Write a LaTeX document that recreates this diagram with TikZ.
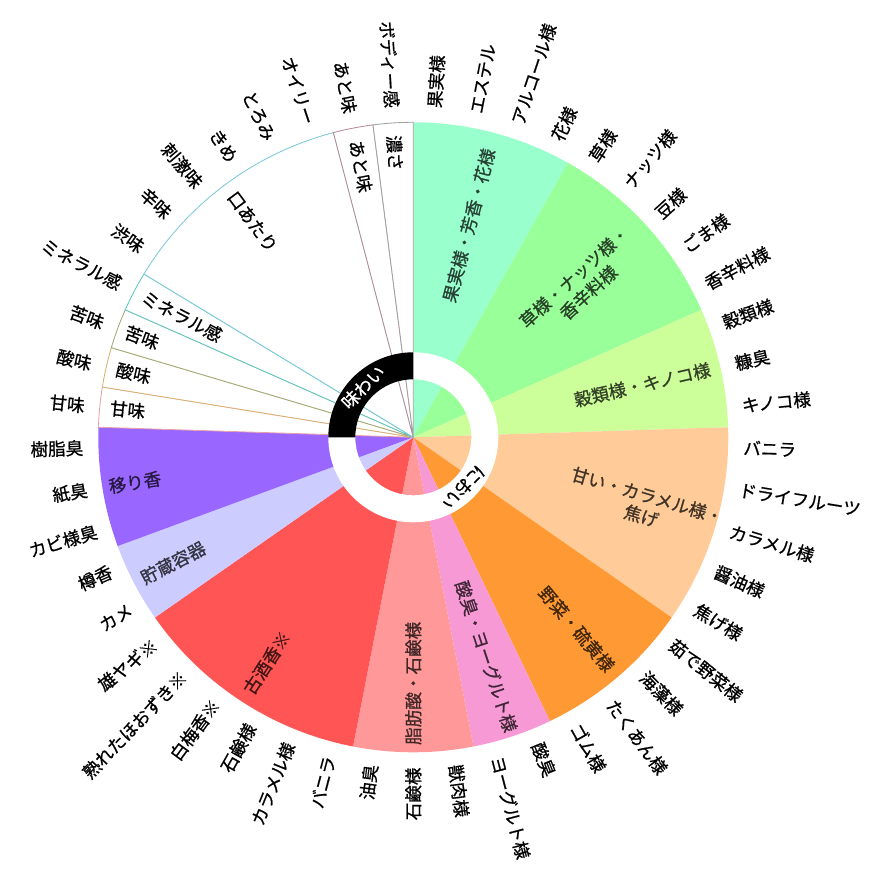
\documentclass[tikz,border=0pt]{standalone}
\usepackage{fontspec}
\setmainfont{Noto Sans CJK JP}[FakeBold=0.8]
\usepackage{tikz}

\definecolor{fruit}{HTML}{99FFCC}
\definecolor{grass}{HTML}{99FF99}
\definecolor{grain}{HTML}{CCFF99}
\definecolor{caramel}{HTML}{FFCC99}
\definecolor{veg}{HTML}{FF9933}
\definecolor{yogurt}{HTML}{F799D5}
\definecolor{fat}{HTML}{FF9999}
\definecolor{koshu}{HTML}{FF5555}
\definecolor{storage}{HTML}{CCCCFF}
\definecolor{transfer}{HTML}{9966FF}
\definecolor{amaline}{HTML}{E8A0A8}
\definecolor{sanline}{HTML}{D8B070}
\definecolor{nigaline}{HTML}{A0A878}
\definecolor{mineline}{HTML}{58C8C0}
\definecolor{kuchiline}{HTML}{78C8D8}
\definecolor{atoline}{HTML}{B88898}
\definecolor{kosaline}{HTML}{A0A0A0}

\tikzset{
  outlabel/.style={font=\fontsize{15}{18}\selectfont, inner sep=0pt},
  inlabel/.style={font=\fontsize{15}{18}\selectfont, align=center, inner sep=0pt},
  ringtext/.style={font=\fontsize{15}{18}\selectfont, inner sep=0pt}
}

\begin{document}
\begin{tikzpicture}[x=0.03cm,y=0.03cm]
\useasboundingbox (-413.3,-433.7) rectangle (460.7,437.3);

\foreach \a/\b/\c in {0/4/fruit,4/9/grass,9/12/grain,12/17/caramel,17/21/veg,21/23/yogurt,23/26/fat,26/32/koshu,32/34/storage,34/37/transfer}
  \fill[\c] (0,0) -- ({90-\a*7.346939}:315) arc[start angle={90-\a*7.346939}, end angle={90-\b*7.346939}, radius=315] -- cycle;

\foreach \a/\b/\c in {37/38/amaline,38/39/sanline,39/40/nigaline,40/41/mineline,41/47/kuchiline,47/48/atoline,48/49/kosaline}
  \filldraw[fill=white,draw=\c,line width=0.7pt] (0,0) -- ({90-\a*7.346939}:315) arc[start angle={90-\a*7.346939}, end angle={90-\b*7.346939}, radius=315] -- cycle;

\fill[white,even odd rule] (0,0) circle[radius=85] (0,0) circle[radius=58];
\fill[black] (90:85) arc[start angle=90,end angle=180,radius=85] -- (180:58) arc[start angle=180,end angle=90,radius=58] -- cycle;
\node[ringtext,white,rotate=45] (aji) at (135:71) {味わい};
\node[ringtext,rotate=-135] (nioi) at (-45:71) {におい};

\node[inlabel,text=fruit!25!black,rotate=75.3] (kajitsu) at (75.3:219) {果実様・芳香・花様};
\node[inlabel,text=grass!25!black,rotate=42.2] (kusa) at (42.2:227) {草様・ナッツ様・\\香辛料様};
\node[inlabel,text=grain!25!black,rotate=12.9] (kokurui) at (12.9:235) {穀類様・キノコ様};
\node[inlabel,text=caramel!25!black,rotate=-16.5] (amai) at (-16.5:241) {甘い・カラメル様・\\焦げ};
\node[inlabel,text=veg!25!black,rotate=-49.6] (yasai) at (-49.6:252) {野菜・硫黄様};
\node[inlabel,text=yogurt!25!black,rotate=-71.6] (sanshu) at (-71.6:231) {酸臭・ヨーグルト様};
\node[inlabel,text=fat!25!black,rotate=90] (shibou) at (-90:246) {脂肪酸・石鹸様};
\node[inlabel,text=koshu!25!black,rotate=57] (koshuka) at (-123:269) {古酒香※};
\node[inlabel,text=storage!25!black,rotate=27.6] (chozo) at (-152.4:271) {貯蔵容器};
\node[inlabel,text=transfer!25!black,rotate=9.2] (utsuri) at (-170.8:282) {移り香};
\node[inlabel,rotate=-5.5] (ama) at (174.5:287) {甘味};
\node[inlabel,rotate=-12.9] (san) at (167.1:287) {酸味};
\node[inlabel,rotate=-20.2] (niga) at (159.8:289) {苦味};
\node[inlabel,rotate=-27.6] (mineral) at (152.4:261) {ミネラル感};
\node[inlabel,rotate=-53.3] (kuchi) at (126.7:269) {口あたり};
\node[inlabel,rotate=-79] (ato) at (101:276) {あと味};
\node[inlabel,rotate=-86.3] (kosa) at (93.7:285) {濃さ};

\foreach \t [count=\i from 0] in {果実様,エステル,アルコール様,花様,草様,ナッツ様,豆様,ごま様,香辛料様,穀類様,糠臭,キノコ様,バニラ,ドライフルーツ,カラメル様,醤油様,焦げ様,茹で野菜様,海藻様,たくあん様,ゴム様,酸臭,ヨーグルト様,獣肉様,石鹸様,油臭,バニラ,カラメル様,石鹸様,白梅香※,熟れたほおずき※,雄ヤギ※,カメ,樽香,カビ様臭,紙臭,樹脂臭,甘味,酸味,苦味,ミネラル感,渋味,辛味,刺激味,きめ,とろみ,オイリー,あと味,ボディー感} {
  \pgfmathsetmacro\ang{90-(\i+0.5)*7.346939}
  \pgfmathsetmacro\rot{\ang+180}
  \ifnum\i<24
    \node[outlabel,anchor=west,rotate=\ang] (o\i) at (\ang:330) {\t};
  \else
    \node[outlabel,anchor=east,rotate=\rot] (o\i) at (\ang:330) {\t};
  \fi
}
\end{tikzpicture}
\end{document}
